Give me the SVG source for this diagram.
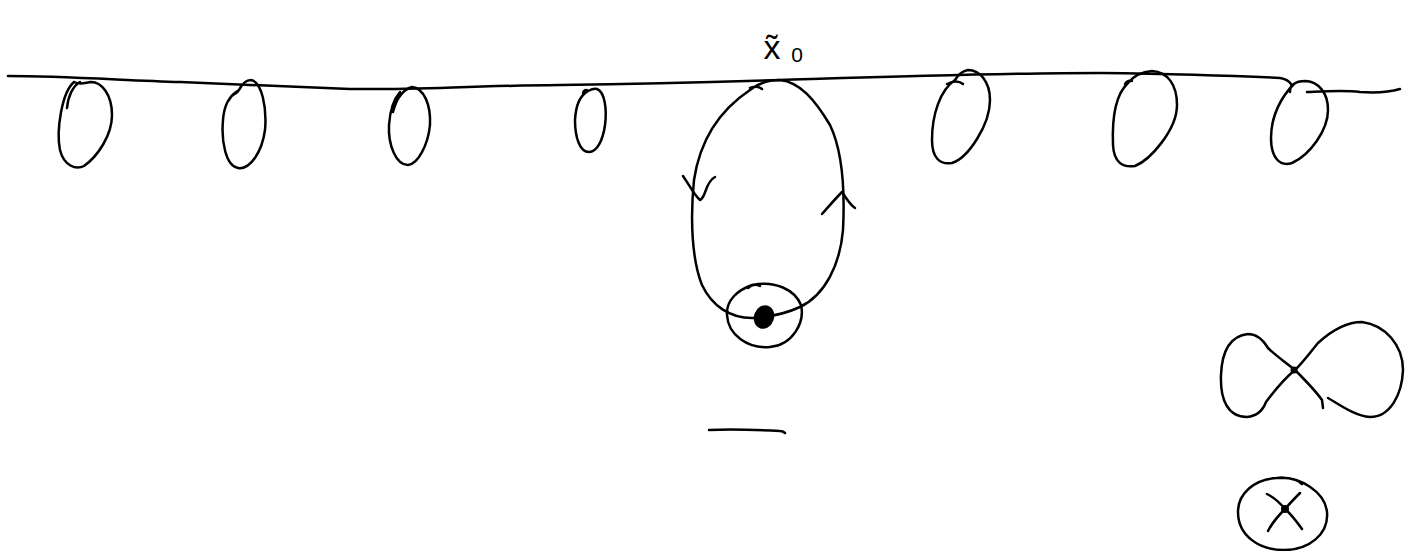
<svg xmlns="http://www.w3.org/2000/svg" width="1405" height="551" viewBox="0 0 1405 551">
<style>
.s{fill:none;stroke:#000;stroke-width:2.5;stroke-linecap:round;stroke-linejoin:round}
.t{font-family:"Liberation Sans",Arial,sans-serif;fill:#000}
</style>
<rect width="1405" height="551" fill="#fff"/>
<g id="baseline">
<path class="s" d="M8,76 C60,76 120,80 180,82 C240,84 300,87 350,89 C420,90 460,86 560,85 C650,84 720,82 780,80 C880,77 1000,73 1100,73 C1180,74 1240,76 1280,78 C1286,79 1289,81 1291,84"/>
<path class="s" d="M1307,92 C1330,91 1345,90 1360,92 C1375,93 1390,92 1400,89"/>
</g>
<g id="loops">
<path class="s" d="M67,108 C68,96 73,86 80,82 M74,82 C62,92 56,130 60,150 C64,166 76,170 84,166 C98,156 112,135 112,115 C112,95 102,82 91,82 C84,83 80,85 74,82"/>
<path class="s" d="M229,100 C232,92 236,96 239,90 C242,84 246,80 251,80 C262,82 267,108 265,130 C262,152 250,170 238,168 C226,166 221,142 223,120 C224,106 228,96 239,90"/>
<path class="s" d="M393,112 C396,100 402,90 412,87 C424,88 431,105 430,125 C428,145 418,164 408,165 C396,165 388,145 389,125 C390,110 393,100 400,92"/>
<path class="s" d="M583,94 C583,90 586,89 588,91 C590,90 594,88 597,89 C605,92 607,110 605,125 C603,140 597,152 589,152 C580,152 575,138 575,120 C576,104 580,96 588,91"/>
<path class="s" d="M947,84 C953,81 959,81 963,84 M955,80 C940,90 932,115 932,140 C932,158 940,165 952,163 C968,158 990,125 990,100 C990,82 980,70 968,70 C962,71 958,75 955,80"/>
<path class="s" d="M1125,84 C1127,81 1130,80 1132,81 M1128,83 C1115,95 1112,120 1113,145 C1114,162 1122,168 1135,166 C1150,160 1177,130 1177,105 C1177,85 1168,72 1152,71 C1140,72 1132,78 1128,83"/>
<path class="s" d="M1290,92 C1290,88 1291,85 1294,84 C1282,96 1271,115 1271,138 C1271,158 1280,167 1292,163 C1310,155 1328,130 1328,110 C1328,92 1318,82 1306,81 C1300,81 1296,82 1294,84"/>
</g>
<g id="main-loop">
<path class="s" d="M750,88 C755,86 759,86 762,89 M750,90 C760,82 770,80 780,80 C800,82 815,100 830,125 C842,150 845,190 843,230 C840,265 825,295 800,307 C785,314 770,317 752,318 C730,318 712,306 702,285 C692,260 690,220 694,180 C700,140 720,110 750,90"/>
<path class="s" d="M683,176 C690,186 694,195 700,200 C706,198 705,182 715,177"/>
<path class="s" d="M822,214 C830,205 836,198 842,192 C846,198 850,205 855,208"/>
</g>
<g id="base-point">
<path class="s" d="M748,288 C752,284 756,284 760,286 M752,285 C775,280 795,290 801,305 C805,322 793,345 770,347 C748,349 728,335 727,315 C726,300 738,290 752,285"/>
<ellipse cx="764" cy="317" rx="10" ry="12" transform="rotate(20 764 317)" fill="#000"/>
</g>
<g id="label">
<text class="t" x="772" y="59" font-size="34" text-anchor="middle">x&#771;</text>
<text class="t" x="797" y="62" font-size="21" text-anchor="middle">0</text>
</g>
<g id="minus">
<path class="s" d="M709,430 C735,429 760,430 780,431 C782,431 784,432 785,433"/>
</g>
<g id="figure-eight">
<path class="s" d="M1295,370 C1285,362 1275,355 1268,348 C1262,338 1255,334 1248,334 C1230,336 1222,350 1221,375 C1220,400 1228,417 1247,417 C1258,416 1263,410 1266,402 C1275,390 1285,378 1295,370 C1305,360 1312,350 1318,343 C1330,332 1345,322 1362,322 C1385,325 1403,345 1403,370 C1402,395 1390,417 1370,417 C1355,416 1340,405 1328,398"/>
<path class="s" d="M1295,370 C1305,380 1315,390 1322,400 L1323,408"/>
<circle cx="1294" cy="370" r="3.5" fill="#000"/>
</g>
<g id="wedge-circle">
<path class="s" d="M1277,478 C1300,476 1325,492 1327,512 C1329,535 1308,550 1284,550 C1258,550 1238,535 1238,512 C1238,493 1255,479 1277,478 C1290,477 1298,480 1302,484"/>
<path class="s" d="M1267,494 C1275,498 1280,503 1285,509 C1291,502 1296,497 1300,493 M1285,509 C1278,516 1272,523 1268,531 M1285,509 C1292,515 1297,522 1302,529"/>
<circle cx="1285" cy="509" r="4" fill="#000"/>
</g>
</svg>
